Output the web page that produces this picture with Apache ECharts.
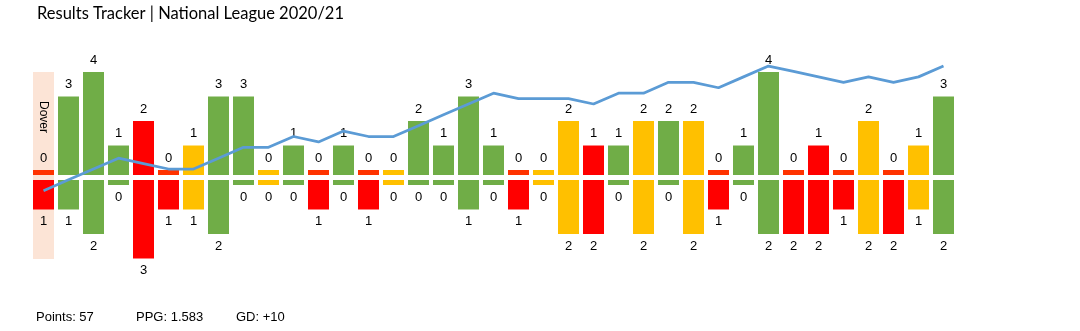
<!DOCTYPE html>
<html>
<head>
<meta charset="utf-8">
<script src="https://cdn.jsdelivr.net/npm/echarts@6/dist/echarts.min.js"></script>
<style>
  html, body { margin: 0; padding: 0; background: #fff; }
  #chart { width: 1080px; height: 331px; }
</style>
</head>
<body>
<div id="chart"></div>
<script>
// Goals scored / conceded in each league match, in order
const goalsFor     = [0,3,4,1,2,0,1,3,3,0, 1,0,1,0,0,2,1,3,1,0, 0,2,1,1,2,2,2,0,1,4, 0,1,0,2,0,1,3];
const goalsAgainst = [1,1,2,0,3,1,1,2,0,0, 0,1,0,1,0,0,0,1,0,1, 0,2,2,0,2,0,2,1,0,2, 2,2,1,2,2,1,2];
// Running form line
const formLine     = [0,2,4,6,5,4,4,6,8,8, 10,9,11,10,10,12,14,16,18,17, 17,17,16,18,18,20,20,19,21,23, 22,21,20,21,20,21,23];
// Match whose result was expunged
const expungedIndex = 0;
const expungedOpponent = 'Dover';
// Season summary
const summaryPoints = '57';
const summaryPPG = '1.583';
const summaryGD = '+10';

const categories = goalsFor.map((_, i) => String(i + 1));

const COLORS = { W: '#70AD47', D: '#FFC000', L: '#FF0000' };
const STUB_LOSS = '#FF3300';
const STUB = 5;          // height of the zero-goal stub, px
const LABEL_GAP = 12;
const SANS = "'Liberation Sans', Arial, sans-serif";

function resultOf(i) {
  const f = goalsFor[i], a = goalsAgainst[i];
  return f > a ? 'W' : (f === a ? 'D' : 'L');
}

function makeRender(up) {
  return function (params, api) {
    const i = api.value(0);
    const v = api.value(1);
    const base = api.coord([i, 0]);
    const end = api.coord([i, v]);
    const bw = api.size([1, 0])[0] * 0.84;
    const res = resultOf(i);
    let color = COLORS[res];
    if (v === 0 && res === 'L') color = STUB_LOSS;
    let y0, h, ly;
    if (up) {
      y0 = end[1];
      h = base[1] + STUB - end[1];
      ly = end[1] - LABEL_GAP;
    } else {
      y0 = base[1] - STUB;
      h = end[1] - base[1] + STUB;
      ly = end[1] + LABEL_GAP;
    }
    return {
      type: 'group',
      children: [
        { type: 'rect', shape: { x: end[0] - bw / 2, y: y0, width: bw, height: h },
          style: { fill: color } },
        { type: 'text', style: { text: String(v), x: end[0], y: ly,
            align: 'center', verticalAlign: 'middle',
            fontSize: 13, fontFamily: SANS, fill: '#000' } }
      ]
    };
  };
}

const PX_PER_GOAL = 24.5;
const LEFT = 31, WIDTH = 925;
const PX_PER_FORM = 5.42;
const FORM_MAX = 25;

const hiddenX = (gi) => ({ type: 'category', data: categories, gridIndex: gi, show: false, boundaryGap: true });
const footStyle = { fontFamily: SANS, fontSize: 13, fontWeight: 'normal', color: '#000' };

const chart = echarts.init(document.getElementById('chart'));
chart.setOption({
  animation: false,
  backgroundColor: '#fff',
  title: [
    { text: 'Results Tracker | National League 2020/21', left: 37, top: 5, padding: 0,
      textStyle: { fontFamily: 'Lato', fontSize: 16.5, fontWeight: 'normal', color: '#000' } },
    { text: 'Points: ' + summaryPoints, left: 36, top: 311, padding: 0, textStyle: footStyle },
    { text: 'PPG: ' + summaryPPG, left: 136, top: 311, padding: 0, textStyle: footStyle },
    { text: 'GD: ' + summaryGD, left: 236, top: 311, padding: 0, textStyle: footStyle }
  ],
  grid: [
    // goals scored, growing upward
    { left: LEFT, width: WIDTH, top: 170 - PX_PER_GOAL * 4.5, height: PX_PER_GOAL * 4.5 },
    // goals conceded, growing downward
    { left: LEFT, width: WIDTH, top: 185, height: PX_PER_GOAL * 3.5 },
    // form line
    { left: LEFT, width: WIDTH, top: 190.7 - PX_PER_FORM * FORM_MAX, height: PX_PER_FORM * FORM_MAX },
    // expunged-match band
    { left: LEFT, width: WIDTH, top: 72, height: 187 }
  ],
  xAxis: [hiddenX(0), hiddenX(1), hiddenX(2), hiddenX(3)],
  yAxis: [
    { type: 'value', gridIndex: 0, min: 0, max: 4.5, show: false },
    { type: 'value', gridIndex: 1, min: 0, max: 3.5, inverse: true, show: false },
    { type: 'value', gridIndex: 2, min: 0, max: FORM_MAX, show: false },
    { type: 'value', gridIndex: 3, min: 0, max: 1, show: false }
  ],
  series: [
    {
      type: 'bar', xAxisIndex: 3, yAxisIndex: 3, z: 1,
      barWidth: 21, silent: true,
      data: categories.map((_, i) => i === expungedIndex ? 1 : null),
      itemStyle: { color: '#FCE4D6' },
      label: {
        show: true, formatter: expungedOpponent, rotate: -90,
        position: [10.5, 45], align: 'center', verticalAlign: 'middle',
        fontFamily: SANS, fontSize: 12, color: '#000'
      }
    },
    {
      type: 'custom', xAxisIndex: 0, yAxisIndex: 0, z: 2, clip: false,
      renderItem: makeRender(true),
      data: goalsFor.map((v, i) => [i, v])
    },
    {
      type: 'custom', xAxisIndex: 1, yAxisIndex: 1, z: 2, clip: false,
      renderItem: makeRender(false),
      data: goalsAgainst.map((v, i) => [i, v])
    },
    {
      type: 'line', xAxisIndex: 2, yAxisIndex: 2, z: 5,
      data: formLine, symbol: 'none', smooth: false,
      lineStyle: { color: '#5B9BD5', width: 2.75 }
    }
  ]
});
</script>
</body>
</html>
